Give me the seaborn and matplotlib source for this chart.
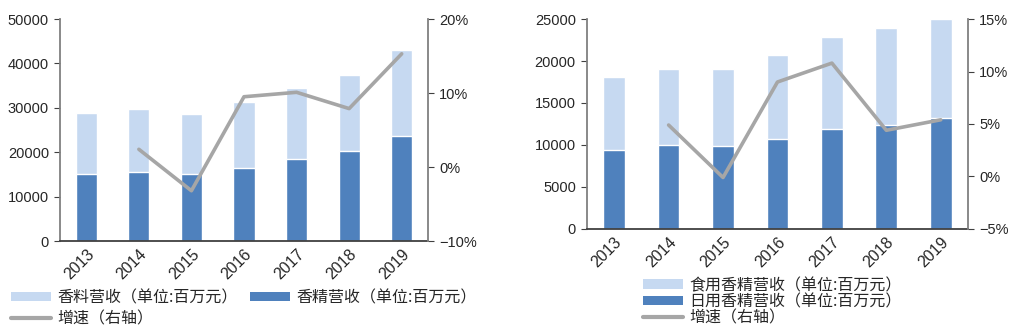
import matplotlib
matplotlib.use("Agg")
import matplotlib.pyplot as plt
import seaborn as sns
import pandas as pd
from matplotlib.patches import Patch
from matplotlib.lines import Line2D
from matplotlib.ticker import FuncFormatter

years = ["2013", "2014", "2015", "2016", "2017", "2018", "2019"]

# Left chart (百万元)
flavor_fragrance_essence = [15100, 15500, 15000, 16400, 18500, 20200, 23600]   # 香精营收
flavor_spice = [13800, 14200, 13600, 15000, 16000, 17100, 19500]              # 香料营收
left_growth_years = ["2014", "2015", "2016", "2017", "2018", "2019"]
left_growth = [2.4, -3.2, 9.5, 10.1, 7.9, 15.3]                                 # 增速 %

# Right chart (百万元)
daily_essence = [9400, 10000, 9900, 10750, 11900, 12400, 13200]                 # 日用香精营收
food_essence = [8700, 9000, 9100, 9950, 11000, 11500, 11800]                    # 食用香精营收
right_growth_years = ["2014", "2015", "2016", "2017", "2018", "2019"]
right_growth = [4.9, -0.1, 9.0, 10.8, 4.4, 5.4]                                 # 增速 %

LIGHT = "#C6D9F1"
DARK = "#4F81BD"
GRAY = "#A6A6A6"

sns.set_style("white")
plt.rcParams["font.family"] = ["Liberation Sans", "Noto Sans CJK SC", "DejaVu Sans"]
CJK = ["Noto Sans CJK SC", "DejaVu Sans"]

fig = plt.figure(figsize=(10.12, 3.28), dpi=100)


def draw(rect, bottom_vals, top_vals, gy, gvals, ymax, ystep, rlim, rstep):
    ax = fig.add_axes(rect)
    totals = [a + b for a, b in zip(bottom_vals, top_vals)]
    df = pd.DataFrame({"year": years, "total": totals, "bottom": bottom_vals})
    sns.barplot(data=df, x="year", y="total", color=LIGHT, width=0.4,
                saturation=1, ax=ax)
    sns.barplot(data=df, x="year", y="bottom", color=DARK, width=0.4,
                saturation=1, ax=ax)
    ax.set_xlim(-0.5, 6.5)
    ax.set_ylim(0, ymax)
    ax.set_yticks(range(0, ymax + 1, ystep))
    ax.set_xlabel("")
    ax.set_ylabel("")
    ax.set_xticks([i - 0.5 for i in range(8)], minor=True)
    ax.tick_params(axis="x", which="major", length=0, labelsize=11.5, pad=4)
    ax.tick_params(axis="x", which="minor", length=4, direction="out", color="#404040")
    for lab in ax.get_xticklabels():
        lab.set_rotation(45)
        lab.set_ha("right")
        lab.set_rotation_mode("anchor")
    ax.tick_params(axis="y", length=4, direction="out", labelsize=10.5, color="#404040", pad=4)
    for s in ["top", "right"]:
        ax.spines[s].set_visible(False)
    ax.spines["left"].set_color("#808080")
    ax.spines["bottom"].set_color("#404040")
    ax.spines["left"].set_linewidth(1.3)
    ax.spines["bottom"].set_linewidth(1.3)

    ax2 = ax.twinx()
    gdf = pd.DataFrame({"x": [years.index(y) for y in gy], "g": gvals})
    sns.lineplot(data=gdf, x="x", y="g", color=GRAY, linewidth=2.6, ax=ax2)
    ax2.set_ylim(*rlim)
    ax2.set_yticks(list(range(rlim[0], rlim[1] + 1, rstep)))
    ax2.yaxis.set_major_formatter(FuncFormatter(lambda v, p: ("\u2212" if v < 0 else "") + f"{abs(int(v))}%"))
    ax2.set_ylabel("")
    ax2.set_xlim(-0.5, 6.5)
    ax2.tick_params(axis="y", length=4, direction="out", labelsize=10.5, color="#404040", pad=4)
    for s in ["top", "left", "bottom"]:
        ax2.spines[s].set_visible(False)
    ax2.spines["right"].set_color("#808080")
    ax2.spines["right"].set_linewidth(1.3)
    return ax, ax2


draw([0.0593, 0.265, 0.3636, 0.677], flavor_fragrance_essence, flavor_spice,
     left_growth_years, left_growth, 50000, 10000, (-10, 20), 10)
draw([0.580, 0.302, 0.3765, 0.640], daily_essence, food_essence,
     right_growth_years, right_growth, 25000, 5000, (-5, 15), 5)

leg_font = {"family": CJK, "size": 11.5}

h_left = [Patch(facecolor=LIGHT, edgecolor="none"),
          Line2D([], [], color=GRAY, linewidth=3),
          Patch(facecolor=DARK, edgecolor="none")]
l_left = ["香料营收（单位:百万元）", "增速（右轴）", "香精营收（单位:百万元）"]
fig.legend(h_left, l_left, ncol=2, loc="upper left", bbox_to_anchor=(0.0, 0.152),
           frameon=False, prop=leg_font, handlelength=2.5, handleheight=0.55,
           handletextpad=0.4, columnspacing=0.75, labelspacing=0.25, borderpad=0.2)

h_right = [Patch(facecolor=LIGHT, edgecolor="none"),
           Patch(facecolor=DARK, edgecolor="none"),
           Line2D([], [], color=GRAY, linewidth=3)]
l_right = ["食用香精营收（单位:百万元）", "日用香精营收（单位:百万元）", "增速（右轴）"]
fig.legend(h_right, l_right, ncol=1, loc="upper left", bbox_to_anchor=(0.624, 0.19),
           frameon=False, prop=leg_font, handlelength=2.5, handleheight=0.55,
           handletextpad=0.4, labelspacing=-0.05, borderpad=0.2)

fig.savefig("out.png", dpi=100)
